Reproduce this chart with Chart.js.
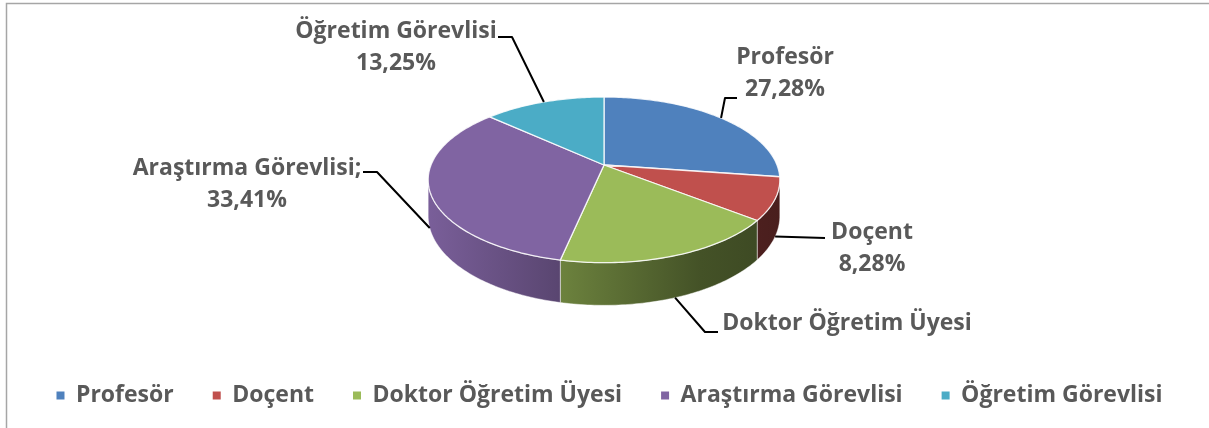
<!DOCTYPE html>
<html>
<head>
<meta charset="utf-8">
<script src="https://cdn.jsdelivr.net/npm/chart.js@4/dist/chart.umd.min.js"></script>
<style>
  body { margin: 0; background: #fff; }
  #wrap { position: relative; width: 1209px; height: 428px; }
</style>
</head>
<body>
<div id="wrap"><canvas id="pie" width="1209" height="428"></canvas></div>
<script>
const categories = ["Profesör", "Doçent", "Doktor Öğretim Üyesi", "Araştırma Görevlisi", "Öğretim Görevlisi"];
const shares = [27.28, 8.28, 17.78, 33.41, 13.25];
const colors = ["#4f81bd", "#c0504d", "#9bbb59", "#8064a2", "#4bacc6"];
// how each data label reads (Excel left a ";" on one, and no value on another)
const labelSuffix = ["", "", "", ";", ""];
const showValue = [true, true, false, true, true];

const FONT = "'Open Sans'";
const TEXT = "#595959";

// 3d tilt of the pie
const CX = 604, CY = 165, RX = 173, RY = 80.2, PERSP = 0.179, DEPTH = 35;

function proj(a, h) {
  const u = Math.sin(a), v = Math.cos(a);
  const w = 1 + PERSP * v;
  return { x: CX + RX * u / w, y: CY + (-RY * v + h) / w };
}

function shade(hex, f) {
  const n = parseInt(hex.slice(1), 16);
  const r = Math.round(((n >> 16) & 255) * f);
  const g = Math.round(((n >> 8) & 255) * f);
  const b = Math.round((n & 255) * f);
  return `rgb(${r},${g},${b})`;
}

// where the labels sit and how the leader lines bend
const labelPlace = [
  { x: 785, y: 57, elbow: [725, 98], end: [737, 98] },
  { x: 872, y: 232, elbow: null, end: [825, 238] },
  { x: 847, y: 323, elbow: [705, 332], end: [718, 332] },
  { x: 247, y: 168, elbow: [377, 172], end: [363, 172] },
  { x: 396, y: 31, elbow: [512, 37], end: [498, 37] },
];

const pie3d = {
  id: "pie3d",
  beforeDraw(chart) {
    const ctx = chart.ctx;
    ctx.save();
    ctx.strokeStyle = "#a6a6a6";
    ctx.lineWidth = 1.5;
    ctx.beginPath();
    ctx.moveTo(6.5, 428);
    ctx.lineTo(6.5, 3.5);
    ctx.lineTo(1209, 3.5);
    ctx.stroke();
    ctx.restore();
  },
  beforeDatasetsDraw(chart) {
    const ctx = chart.ctx;
    const arcs = chart.getDatasetMeta(0).data;
    const aL = Math.acos(-PERSP), aR = 2 * Math.PI - aL;
    ctx.save();

    // outer walls
    arcs.forEach((arc, i) => {
      const a1 = arc.startAngle + Math.PI / 2, a2 = arc.endAngle + Math.PI / 2;
      const s = Math.max(a1, aL), e = Math.min(a2, aR);
      if (e <= s) return;
      const steps = Math.max(8, Math.ceil((e - s) * 60));
      ctx.beginPath();
      for (let k = 0; k <= steps; k++) {
        const p = proj(s + (e - s) * k / steps, 0);
        k ? ctx.lineTo(p.x, p.y) : ctx.moveTo(p.x, p.y);
      }
      for (let k = steps; k >= 0; k--) {
        const p = proj(s + (e - s) * k / steps, DEPTH);
        ctx.lineTo(p.x, p.y);
      }
      ctx.closePath();
      const g = ctx.createLinearGradient(CX - RX - 5, 0, CX + RX + 5, 0);
      g.addColorStop(0, shade(colors[i], 0.95));
      g.addColorStop(0.37, shade(colors[i], 0.7));
      g.addColorStop(0.77, shade(colors[i], 0.44));
      g.addColorStop(1, shade(colors[i], 0.38));
      ctx.fillStyle = g;
      ctx.fill();
      ctx.strokeStyle = "rgba(255,255,255,0.45)";
      ctx.lineWidth = 1;
      ctx.stroke();
    });

    // top faces
    arcs.forEach((arc, i) => {
      const a1 = arc.startAngle + Math.PI / 2, a2 = arc.endAngle + Math.PI / 2;
      const steps = Math.max(8, Math.ceil((a2 - a1) * 60));
      ctx.beginPath();
      ctx.moveTo(CX, CY);
      for (let k = 0; k <= steps; k++) {
        const p = proj(a1 + (a2 - a1) * k / steps, 0);
        ctx.lineTo(p.x, p.y);
      }
      ctx.closePath();
      ctx.fillStyle = colors[i];
      ctx.fill();
      ctx.strokeStyle = "rgba(255,255,255,0.85)";
      ctx.lineWidth = 1.3;
      ctx.lineJoin = "round";
      ctx.stroke();
    });

    // leader lines and labels
    ctx.strokeStyle = "#000";
    ctx.lineWidth = 2;
    ctx.fillStyle = TEXT;
    ctx.font = `bold 23px ${FONT}`;
    ctx.textAlign = "center";
    ctx.textBaseline = "middle";
    arcs.forEach((arc, i) => {
      const mid = (arc.startAngle + arc.endAngle) / 2 + Math.PI / 2;
      const front = Math.cos(mid) < 0;
      const anchor = proj(mid, front ? DEPTH : 0);
      const lp = labelPlace[i];
      ctx.beginPath();
      ctx.moveTo(anchor.x, anchor.y);
      if (lp.elbow) ctx.lineTo(lp.elbow[0], lp.elbow[1]);
      ctx.lineTo(lp.end[0], lp.end[1]);
      ctx.stroke();
      const name = categories[i] + labelSuffix[i];
      ctx.fillText(name, lp.x, lp.y);
      if (showValue[i]) {
        const val = shares[i].toFixed(2).replace(".", ",") + "%";
        ctx.fillText(val, lp.x, lp.y + 32);
      }
    });

    ctx.restore();
    return false;
  },
};

new Chart(document.getElementById("pie"), {
  type: "pie",
  data: {
    labels: categories,
    datasets: [{ data: shares, backgroundColor: colors, borderWidth: 0 }],
  },
  options: {
    responsive: false,
    animation: false,
    layout: { padding: { left: 10, right: 0, top: 0, bottom: 11 } },
    plugins: {
      tooltip: { enabled: false },
      legend: {
        position: "bottom",
        labels: {
          color: TEXT,
          font: { family: FONT, weight: "bold", size: 23 },
          boxWidth: 8,
          boxHeight: 8,
          padding: 39,
        },
      },
    },
  },
  plugins: [pie3d],
});
</script>
</body>
</html>
